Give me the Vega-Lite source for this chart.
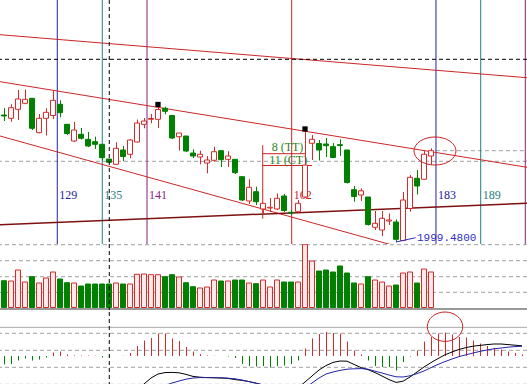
{
  "$schema": "https://vega.github.io/schema/vega-lite/v6.json",
  "background": "white",
  "padding": 0,
  "spacing": 0,
  "config": {"view": {"stroke": null}, "scale": {"continuousPadding": 0}},
  "datasets": {
    "k": [
      {"i":0,"o":2126.5,"c":2125.5,"h":2133.5,"l":2120.5,"v":268},
      {"i":1,"o":2123.2,"c":2133.8,"h":2137.2,"l":2119.8,"v":265},
      {"i":2,"o":2132.2,"c":2142.5,"h":2151.5,"l":2121.5,"v":375},
      {"i":3,"o":2138.2,"c":2142.2,"h":2152.0,"l":2137.2,"v":255},
      {"i":4,"o":2143.2,"c":2113.2,"h":2143.5,"l":2111.5,"v":308},
      {"i":5,"o":2108.8,"c":2123.2,"h":2127.5,"l":2108.2,"v":245},
      {"i":6,"o":2123.2,"c":2129.2,"h":2133.2,"l":2106.0,"v":295},
      {"i":7,"o":2126.0,"c":2141.2,"h":2151.5,"l":2122.5,"v":355},
      {"i":8,"o":2137.2,"c":2128.8,"h":2141.2,"l":2124.2,"v":285},
      {"i":9,"o":2117.2,"c":2108.0,"h":2117.5,"l":2106.5,"v":248},
      {"i":10,"o":2100.5,"c":2111.5,"h":2119.5,"l":2099.5,"v":245},
      {"i":11,"o":2107.2,"c":2103.2,"h":2113.5,"l":2102.0,"v":215},
      {"i":12,"o":2102.2,"c":2095.5,"h":2109.5,"l":2094.5,"v":235},
      {"i":13,"o":2099.8,"c":2097.2,"h":2104.8,"l":2092.5,"v":235},
      {"i":14,"o":2097.2,"c":2083.8,"h":2097.5,"l":2081.0,"v":235},
      {"i":15,"o":2082.5,"c":2079.2,"h":2082.5,"l":2078.5,"v":235},
      {"i":16,"o":2077.2,"c":2093.2,"h":2099.2,"l":2076.5,"v":245},
      {"i":17,"o":2091.5,"c":2085.0,"h":2095.5,"l":2080.2,"v":235},
      {"i":18,"o":2087.2,"c":2101.5,"h":2102.5,"l":2083.2,"v":235},
      {"i":19,"o":2099.5,"c":2118.5,"h":2122.0,"l":2099.0,"v":332},
      {"i":20,"o":2117.2,"c":2120.5,"h":2123.5,"l":2113.2,"v":335},
      {"i":21,"o":2122.2,"c":2123.0,"h":2127.5,"l":2118.2,"v":328},
      {"i":22,"o":2122.2,"c":2132.0,"h":2135.5,"l":2113.5,"v":328},
      {"i":23,"o":2133.2,"c":2130.2,"h":2134.8,"l":2127.2,"v":308},
      {"i":24,"o":2126.0,"c":2103.5,"h":2126.0,"l":2102.5,"v":328},
      {"i":25,"o":2104.8,"c":2108.5,"h":2108.5,"l":2091.0,"v":305},
      {"i":26,"o":2105.5,"c":2090.5,"h":2105.5,"l":2089.5,"v":248},
      {"i":27,"o":2088.5,"c":2085.5,"h":2092.2,"l":2083.5,"v":208},
      {"i":28,"o":2084.5,"c":2087.2,"h":2090.8,"l":2077.2,"v":195},
      {"i":29,"o":2078.5,"c":2081.5,"h":2085.5,"l":2068.2,"v":205},
      {"i":30,"o":2081.2,"c":2089.8,"h":2094.8,"l":2079.8,"v":275},
      {"i":31,"o":2090.8,"c":2081.8,"h":2090.8,"l":2074.5,"v":265},
      {"i":32,"o":2082.2,"c":2085.5,"h":2090.3,"l":2074.5,"v":265},
      {"i":33,"o":2082.2,"c":2068.8,"h":2082.2,"l":2067.5,"v":275},
      {"i":34,"o":2064.8,"c":2041.5,"h":2064.8,"l":2040.5,"v":275},
      {"i":35,"o":2040.5,"c":2054.2,"h":2062.2,"l":2037.5,"v":245},
      {"i":36,"o":2049.8,"c":2039.8,"h":2054.8,"l":2036.5,"v":238},
      {"i":37,"o":2032.5,"c":2038.2,"h":2038.5,"l":2028.2,"v":275},
      {"i":38,"o":2033.5,"c":2034.2,"h":2043.5,"l":2029.5,"v":205},
      {"i":39,"o":2032.5,"c":2043.2,"h":2048.0,"l":2031.5,"v":275},
      {"i":40,"o":2045.5,"c":2031.0,"h":2047.5,"l":2029.5,"v":255},
      {"i":41,"o":2029.2,"c":2028.5,"h":2031.5,"l":2026.5,"v":255},
      {"i":42,"o":2029.8,"c":2038.2,"h":2041.5,"l":2028.2,"v":255},
      {"i":43,"o":2044.5,"c":2076.5,"h":2111.5,"l":2043.5,"v":632},
      {"i":44,"o":2098.2,"c":2102.2,"h":2106.5,"l":2081.5,"v":465},
      {"i":45,"o":2098.0,"c":2091.5,"h":2101.5,"l":2081.0,"v":365},
      {"i":46,"o":2097.5,"c":2095.8,"h":2103.5,"l":2084.5,"v":375},
      {"i":47,"o":2094.8,"c":2084.0,"h":2098.5,"l":2083.5,"v":355},
      {"i":48,"o":2096.8,"c":2096.0,"h":2102.2,"l":2085.5,"v":415},
      {"i":49,"o":2091.5,"c":2059.0,"h":2091.5,"l":2058.0,"v":345},
      {"i":50,"o":2051.8,"c":2045.0,"h":2055.5,"l":2039.8,"v":245},
      {"i":51,"o":2046.5,"c":2050.7,"h":2053.2,"l":2040.5,"v":235},
      {"i":52,"o":2044.5,"c":2017.0,"h":2044.5,"l":2016.0,"v":308},
      {"i":53,"o":2014.2,"c":2018.2,"h":2030.5,"l":2011.5,"v":275},
      {"i":54,"o":2011.5,"c":2023.2,"h":2030.5,"l":2005.5,"v":255},
      {"i":55,"o":2020.5,"c":2021.5,"h":2028.0,"l":2016.5,"v":215},
      {"i":56,"o":2019.5,"c":2002.2,"h":2022.0,"l":1999.48,"v":225},
      {"i":57,"o":2001.0,"c":2041.5,"h":2049.5,"l":2000.5,"v":345},
      {"i":58,"o":2033.0,"c":2064.2,"h":2066.5,"l":2029.8,"v":355},
      {"i":59,"o":2063.2,"c":2055.5,"h":2071.5,"l":2047.0,"v":245},
      {"i":60,"o":2062.2,"c":2087.3,"h":2090.5,"l":2062.2,"v":385},
      {"i":61,"o":2085.5,"c":2090.8,"h":2093.2,"l":2076.5,"v":355}
    ],
    "macd": [
      {"i":0,"dif":-24,"dea":-23,"hist":-4.3},
      {"i":1,"dif":-25,"dea":-23,"hist":-4},
      {"i":2,"dif":-26,"dea":-24,"hist":-2.3},
      {"i":3,"dif":-26,"dea":-24,"hist":-1.3},
      {"i":4,"dif":-27,"dea":-24,"hist":-2.3},
      {"i":5,"dif":-27,"dea":-24,"hist":-1.7},
      {"i":6,"dif":-27,"dea":-25,"hist":-0.7},
      {"i":7,"dif":-26,"dea":-25,"hist":1.7},
      {"i":8,"dif":-25,"dea":-25,"hist":2.3},
      {"i":9,"dif":-24,"dea":-25,"hist":0.7},
      {"i":10,"dif":-24,"dea":-25,"hist":0.3},
      {"i":11,"dif":-23,"dea":-24,"hist":0.3},
      {"i":12,"dif":-23,"dea":-24,"hist":0.2},
      {"i":13,"dif":-22,"dea":-24,"hist":0.1},
      {"i":14,"dif":-22,"dea":-23,"hist":-0.7},
      {"i":15,"dif":-21,"dea":-23,"hist":-0.5},
      {"i":16,"dif":-20,"dea":-22,"hist":0},
      {"i":17,"dif":-19,"dea":-22,"hist":0.1},
      {"i":18,"dif":-18,"dea":-21,"hist":1.5},
      {"i":19,"dif":-16.5,"dea":-20,"hist":5},
      {"i":20,"dif":-14,"dea":-18.5,"hist":7.7},
      {"i":21,"dif":-11,"dea":-17.2,"hist":9},
      {"i":22,"dif":-9,"dea":-16,"hist":11.3},
      {"i":23,"dif":-8.3,"dea":-14.8,"hist":11.3},
      {"i":24,"dif":-8.2,"dea":-13.5,"hist":8.7},
      {"i":25,"dif":-8.4,"dea":-12.5,"hist":7.5},
      {"i":26,"dif":-9.2,"dea":-11.6,"hist":4.5},
      {"i":27,"dif":-10.2,"dea":-11,"hist":2.3},
      {"i":28,"dif":-10.6,"dea":-10.8,"hist":1},
      {"i":29,"dif":-10.8,"dea":-10.8,"hist":0.2},
      {"i":30,"dif":-10.9,"dea":-10.8,"hist":0.1},
      {"i":31,"dif":-11,"dea":-10.9,"hist":0},
      {"i":32,"dif":-11.2,"dea":-11.1,"hist":-0.3},
      {"i":33,"dif":-11.8,"dea":-11.4,"hist":-1},
      {"i":34,"dif":-12.2,"dea":-12,"hist":-4},
      {"i":35,"dif":-12.8,"dea":-12.8,"hist":-5},
      {"i":36,"dif":-13.6,"dea":-13.6,"hist":-5.3},
      {"i":37,"dif":-14.6,"dea":-14.4,"hist":-5},
      {"i":38,"dif":-15.6,"dea":-15.2,"hist":-5.7},
      {"i":39,"dif":-17,"dea":-16,"hist":-5},
      {"i":40,"dif":-18,"dea":-17,"hist":-4.7},
      {"i":41,"dif":-18,"dea":-17.5,"hist":-4},
      {"i":42,"dif":-16,"dea":-17,"hist":-2.2},
      {"i":43,"dif":-13,"dea":-16,"hist":3.7},
      {"i":44,"dif":-10,"dea":-13.5,"hist":8.7},
      {"i":45,"dif":-7,"dea":-11,"hist":11},
      {"i":46,"dif":-4.8,"dea":-9,"hist":12},
      {"i":47,"dif":-3.2,"dea":-8,"hist":11.5},
      {"i":48,"dif":-2.5,"dea":-7.2,"hist":11.2},
      {"i":49,"dif":-2.6,"dea":-6.6,"hist":7.3},
      {"i":50,"dif":-4.2,"dea":-6.4,"hist":2.8},
      {"i":51,"dif":-5.8,"dea":-6.3,"hist":0.7},
      {"i":52,"dif":-6.8,"dea":-6.6,"hist":-2.2},
      {"i":53,"dif":-8.3,"dea":-7.6,"hist":-5},
      {"i":54,"dif":-10,"dea":-8.5,"hist":-5.5},
      {"i":55,"dif":-11.8,"dea":-9.5,"hist":-5.5},
      {"i":56,"dif":-13.2,"dea":-10.4,"hist":-7.2},
      {"i":57,"dif":-12.6,"dea":-10.5,"hist":-3},
      {"i":58,"dif":-10.5,"dea":-9.9,"hist":-0.3},
      {"i":59,"dif":-8,"dea":-8.8,"hist":2.8},
      {"i":60,"dif":-5.5,"dea":-7.5,"hist":7.3},
      {"i":61,"dif":-3.3,"dea":-5.8,"hist":9.5},
      {"i":62,"dif":-1.3,"dea":-4.2,"hist":11.2},
      {"i":63,"dif":0.6,"dea":-2.8,"hist":11.7},
      {"i":64,"dif":2,"dea":-1.5,"hist":10.7},
      {"i":65,"dif":3.3,"dea":-0.3,"hist":9.5},
      {"i":66,"dif":4.2,"dea":0.6,"hist":9.2},
      {"i":67,"dif":4.9,"dea":1.5,"hist":7.8},
      {"i":68,"dif":5.3,"dea":2.3,"hist":6.2},
      {"i":69,"dif":5.7,"dea":3,"hist":5},
      {"i":70,"dif":6,"dea":3.6,"hist":4},
      {"i":71,"dif":6,"dea":4,"hist":3.3},
      {"i":72,"dif":5.7,"dea":4.4,"hist":2.3},
      {"i":73,"dif":5.4,"dea":4.7,"hist":1.5},
      {"i":74,"dif":5.1,"dea":4.9,"hist":0.7}
    ],
    "cycles": [
      {"i":7.61,"n":"129","s":"A"},
      {"i":14.04,"n":"135","s":"B"},
      {"i":20.43,"n":"141","s":"C"},
      {"i":41.1,"n":"162","s":"D"},
      {"i":61.71,"n":"183","s":"A"},
      {"i":68.1,"n":"189","s":"B"},
      {"i":74.47,"n":"195","s":"C"}
    ],
    "channel": [
      {"t":"top","i":-0.5714,"p":2206.8},
      {"t":"top","i":74.7143,"p":2163.8},
      {"t":"upper","i":-0.5714,"p":2159.8},
      {"t":"upper","i":74.7143,"p":2074.2},
      {"t":"lower","i":-0.5714,"p":2105.5},
      {"t":"lower","i":74.7143,"p":1959.0}
    ],
    "base": [
      {"i":-0.5714,"p":2016.8},
      {"i":74.7143,"p":2038.2}
    ],
    "cross": [{"i":15.04,"p":2182.2}]
  },
  "vconcat": [
    {
      "width": 527,
      "height": 244,
      "layer": [
        {
          "data": {"values": [{"p": 2080.2}]},
          "mark": {"type": "rule", "color": "#a0a0a0", "strokeDash": [4, 3], "clip": true},
          "encoding": {
            "y": {"field": "p", "type": "quantitative", "scale": {"domain": [1997.5, 2241.5], "nice": false, "zero": false, "padding": 0}, "axis": null}
          }
        },
        {
          "data": {"values": [{"i": 61.7, "i2": 74.7143, "p": 2090.8}]},
          "mark": {"type": "rule", "color": "#a0a0a0", "strokeDash": [4, 3], "clip": true},
          "encoding": {
            "x": {"field": "i", "type": "quantitative", "scale": {"domain": [-0.5714, 74.7143], "nice": false, "zero": false, "padding": 0}, "axis": null},
            "x2": {"field": "i2"},
            "y": {"field": "p", "type": "quantitative", "scale": {"domain": [1997.5, 2241.5], "nice": false, "zero": false, "padding": 0}, "axis": null}
          }
        },
        {
          "data": {"name": "cycles"},
          "mark": {"type": "rule", "strokeWidth": 1, "clip": true},
          "encoding": {
            "x": {"field": "i", "type": "quantitative", "scale": {"domain": [-0.5714, 74.7143], "nice": false, "zero": false, "padding": 0}, "axis": null},
            "color": {"field": "s", "type": "nominal", "scale": {"domain": ["A", "B", "C", "D"], "range": ["#24249c", "#1e8282", "#861e86", "#cc2222"]}, "legend": null}
          }
        },
        {
          "data": {"name": "cycles"},
          "transform": [{"filter": "datum.i < 70"}],
          "mark": {"type": "text", "align": "left", "baseline": "middle", "dx": 2, "font": "Liberation Serif", "fontSize": 12, "clip": true},
          "encoding": {
            "x": {"field": "i", "type": "quantitative", "scale": {"domain": [-0.5714, 74.7143], "nice": false, "zero": false, "padding": 0}, "axis": null},
            "y": {"datum": 2046.5, "type": "quantitative", "scale": {"domain": [1997.5, 2241.5], "nice": false, "zero": false, "padding": 0}, "axis": null},
            "text": {"field": "n", "type": "nominal"},
            "color": {"field": "s", "type": "nominal", "scale": {"domain": ["A", "B", "C", "D"], "range": ["#24249c", "#1e8282", "#861e86", "#cc2222"]}, "legend": null}
          }
        },
        {
          "data": {"name": "channel"},
          "mark": {"type": "line", "color": "#cc2626", "strokeWidth": 1, "clip": true},
          "encoding": {
            "x": {"field": "i", "type": "quantitative", "scale": {"domain": [-0.5714, 74.7143], "nice": false, "zero": false, "padding": 0}, "axis": null},
            "y": {"field": "p", "type": "quantitative", "scale": {"domain": [1997.5, 2241.5], "nice": false, "zero": false, "padding": 0}, "axis": null},
            "detail": {"field": "t", "type": "nominal"}
          }
        },
        {
          "data": {"name": "base"},
          "mark": {"type": "line", "color": "#7f1010", "strokeWidth": 1.5, "clip": true},
          "encoding": {
            "x": {"field": "i", "type": "quantitative", "scale": {"domain": [-0.5714, 74.7143], "nice": false, "zero": false, "padding": 0}, "axis": null},
            "y": {"field": "p", "type": "quantitative", "scale": {"domain": [1997.5, 2241.5], "nice": false, "zero": false, "padding": 0}, "axis": null}
          }
        },
        {
          "data": {"values": [
            {"i": 36.96, "i2": 36.96, "p": 2022.8, "p2": 2096.2},
            {"i": 36.96, "i2": 43, "p": 2087.8, "p2": 2087.8},
            {"i": 36.96, "i2": 44, "p": 2076.0, "p2": 2076.0}
          ]},
          "mark": {"type": "rule", "color": "#cc2222", "strokeWidth": 1, "clip": true},
          "encoding": {
            "x": {"field": "i", "type": "quantitative", "scale": {"domain": [-0.5714, 74.7143], "nice": false, "zero": false, "padding": 0}, "axis": null},
            "x2": {"field": "i2"},
            "y": {"field": "p", "type": "quantitative", "scale": {"domain": [1997.5, 2241.5], "nice": false, "zero": false, "padding": 0}, "axis": null},
            "y2": {"field": "p2"}
          }
        },
        {
          "data": {"values": [
            {"i": 40.5, "p": 2090.5, "t": "8 (TT)"},
            {"i": 40.6, "p": 2077.5, "t": "11 (CT)"}
          ]},
          "mark": {"type": "text", "align": "center", "baseline": "alphabetic", "font": "Liberation Serif", "fontSize": 12, "color": "#1f851f", "clip": true},
          "encoding": {
            "x": {"field": "i", "type": "quantitative", "scale": {"domain": [-0.5714, 74.7143], "nice": false, "zero": false, "padding": 0}, "axis": null},
            "y": {"field": "p", "type": "quantitative", "scale": {"domain": [1997.5, 2241.5], "nice": false, "zero": false, "padding": 0}, "axis": null},
            "text": {"field": "t", "type": "nominal"}
          }
        },
        {
          "data": {"name": "k"},
          "mark": {"type": "rule", "strokeWidth": 1, "xOffset": 0.5, "clip": true},
          "encoding": {
            "x": {"field": "i", "type": "quantitative", "scale": {"domain": [-0.5714, 74.7143], "nice": false, "zero": false, "padding": 0}, "axis": null},
            "y": {"field": "l", "type": "quantitative", "scale": {"domain": [1997.5, 2241.5], "nice": false, "zero": false, "padding": 0}, "axis": null},
            "y2": {"field": "h"},
            "color": {"condition": {"test": "datum.c >= datum.o", "value": "#d42a2a"}, "value": "#008000"}
          }
        },
        {
          "data": {"name": "k"},
          "mark": {"type": "bar", "width": 5, "strokeWidth": 1, "clip": true},
          "encoding": {
            "x": {"field": "i", "type": "quantitative", "scale": {"domain": [-0.5714, 74.7143], "nice": false, "zero": false, "padding": 0}, "axis": null},
            "y": {"field": "o", "type": "quantitative", "scale": {"domain": [1997.5, 2241.5], "nice": false, "zero": false, "padding": 0}, "axis": null},
            "y2": {"field": "c"},
            "fill": {"condition": {"test": "datum.c >= datum.o", "value": "#ffffff"}, "value": "#008000"},
            "stroke": {"condition": {"test": "datum.c >= datum.o", "value": "#d42a2a"}, "value": "#008000"}
          }
        },
        {
          "data": {"values": [{"i": 22, "p": 2137}, {"i": 43, "p": 2112.5}]},
          "mark": {"type": "point", "shape": "square", "filled": true, "size": 28, "color": "#000000", "opacity": 1, "clip": true},
          "encoding": {
            "x": {"field": "i", "type": "quantitative", "scale": {"domain": [-0.5714, 74.7143], "nice": false, "zero": false, "padding": 0}, "axis": null},
            "y": {"field": "p", "type": "quantitative", "scale": {"domain": [1997.5, 2241.5], "nice": false, "zero": false, "padding": 0}, "axis": null}
          }
        },
        {
          "data": {"values": [{"i": 56, "p": 1999.48, "i2": 58.8, "p2": 2003.8}]},
          "mark": {"type": "rule", "color": "#2f2fc8", "strokeWidth": 1, "clip": true},
          "encoding": {
            "x": {"field": "i", "type": "quantitative", "scale": {"domain": [-0.5714, 74.7143], "nice": false, "zero": false, "padding": 0}, "axis": null},
            "x2": {"field": "i2"},
            "y": {"field": "p", "type": "quantitative", "scale": {"domain": [1997.5, 2241.5], "nice": false, "zero": false, "padding": 0}, "axis": null},
            "y2": {"field": "p2"}
          }
        },
        {
          "data": {"values": [{"i": 56, "p": 1999.48}]},
          "mark": {"type": "text", "align": "left", "baseline": "middle", "dx": 21, "dy": -4, "font": "Liberation Mono", "fontSize": 11, "color": "#2f2fc8", "clip": true},
          "encoding": {
            "x": {"field": "i", "type": "quantitative", "scale": {"domain": [-0.5714, 74.7143], "nice": false, "zero": false, "padding": 0}, "axis": null},
            "y": {"field": "p", "type": "quantitative", "scale": {"domain": [1997.5, 2241.5], "nice": false, "zero": false, "padding": 0}, "axis": null},
            "text": {"field": "p", "type": "quantitative", "format": ".4f"}
          }
        },
        {
          "data": {"values": [{"i": 61.57, "p": 2090.5}]},
          "mark": {"type": "point", "shape": "M-1,0A1,0.667,0,1,1,1,0A1,0.667,0,1,1,-1,0Z", "size": 1764, "filled": false, "color": "#cc2222", "strokeWidth": 1, "opacity": 1},
          "encoding": {
            "x": {"field": "i", "type": "quantitative", "scale": {"domain": [-0.5714, 74.7143], "nice": false, "zero": false, "padding": 0}, "axis": null},
            "y": {"field": "p", "type": "quantitative", "scale": {"domain": [1997.5, 2241.5], "nice": false, "zero": false, "padding": 0}, "axis": null}
          }
        },
        {
          "data": {"name": "cross"},
          "mark": {"type": "rule", "color": "#000000", "strokeDash": [4, 3], "clip": true},
          "encoding": {
            "y": {"field": "p", "type": "quantitative", "scale": {"domain": [1997.5, 2241.5], "nice": false, "zero": false, "padding": 0}, "axis": null}
          }
        },
        {
          "data": {"name": "cross"},
          "mark": {"type": "rule", "color": "#000000", "strokeDash": [4, 3], "clip": true},
          "encoding": {
            "x": {"field": "i", "type": "quantitative", "scale": {"domain": [-0.5714, 74.7143], "nice": false, "zero": false, "padding": 0}, "axis": null}
          }
        }
      ]
    },
    {
      "width": 527,
      "height": 66,
      "layer": [
        {
          "data": {"values": [{"v": 628}, {"v": 468}, {"v": 308}, {"v": 152}]},
          "mark": {"type": "rule", "color": "#a0a0a0", "strokeDash": [4, 3], "clip": true},
          "encoding": {
            "y": {"field": "v", "type": "quantitative", "scale": {"domain": [-25, 635], "nice": false, "zero": false, "padding": 0}, "axis": null}
          }
        },
        {
          "data": {"values": [{"v": -15}]},
          "mark": {"type": "rule", "color": "#999999", "strokeWidth": 2, "clip": true},
          "encoding": {
            "y": {"field": "v", "type": "quantitative", "scale": {"domain": [-25, 635], "nice": false, "zero": false, "padding": 0}, "axis": null}
          }
        },
        {
          "data": {"name": "k"},
          "mark": {"type": "bar", "width": 5, "strokeWidth": 1, "clip": true},
          "encoding": {
            "x": {"field": "i", "type": "quantitative", "scale": {"domain": [-0.5714, 74.7143], "nice": false, "zero": false, "padding": 0}, "axis": null},
            "y": {"field": "v", "type": "quantitative", "scale": {"domain": [-25, 635], "nice": false, "zero": false, "padding": 0}, "axis": null},
            "fill": {"condition": {"test": "datum.c >= datum.o", "value": "#ffeaea"}, "value": "#008000"},
            "stroke": {"condition": {"test": "datum.c >= datum.o", "value": "#d42a2a"}, "value": "#008000"}
          }
        },
        {
          "data": {"name": "cross"},
          "mark": {"type": "rule", "color": "#000000", "strokeDash": [4, 3], "clip": true},
          "encoding": {
            "x": {"field": "i", "type": "quantitative", "scale": {"domain": [-0.5714, 74.7143], "nice": false, "zero": false, "padding": 0}, "axis": null}
          }
        }
      ]
    },
    {
      "width": 527,
      "height": 74,
      "layer": [
        {
          "data": {"values": [{"m": 14.35}]},
          "mark": {"type": "rule", "color": "#a8a8a8", "clip": true},
          "encoding": {
            "y": {"field": "m", "type": "quantitative", "scale": {"domain": [-15, 22], "nice": false, "zero": false, "padding": 0}, "axis": null}
          }
        },
        {
          "data": {"values": [{"m": 11.35}, {"m": 2.85}, {"m": -5.65}, {"m": -14.15}]},
          "mark": {"type": "rule", "color": "#a0a0a0", "strokeDash": [4, 3], "clip": true},
          "encoding": {
            "y": {"field": "m", "type": "quantitative", "scale": {"domain": [-15, 22], "nice": false, "zero": false, "padding": 0}, "axis": null}
          }
        },
        {
          "data": {"name": "macd"},
          "mark": {"type": "bar", "width": 1, "xOffset": 0.5, "clip": true},
          "encoding": {
            "x": {"field": "i", "type": "quantitative", "scale": {"domain": [-0.5714, 74.7143], "nice": false, "zero": false, "padding": 0}, "axis": null},
            "y": {"field": "hist", "type": "quantitative", "scale": {"domain": [-15, 22], "nice": false, "zero": false, "padding": 0}, "axis": null},
            "color": {"condition": {"test": "datum.hist >= 0", "value": "#d42a2a"}, "value": "#008000"}
          }
        },
        {
          "data": {"name": "macd"},
          "mark": {"type": "line", "color": "#000000", "strokeWidth": 1, "clip": true},
          "encoding": {
            "x": {"field": "i", "type": "quantitative", "scale": {"domain": [-0.5714, 74.7143], "nice": false, "zero": false, "padding": 0}, "axis": null},
            "y": {"field": "dif", "type": "quantitative", "scale": {"domain": [-15, 22], "nice": false, "zero": false, "padding": 0}, "axis": null}
          }
        },
        {
          "data": {"name": "macd"},
          "mark": {"type": "line", "color": "#2424a8", "strokeWidth": 1, "clip": true},
          "encoding": {
            "x": {"field": "i", "type": "quantitative", "scale": {"domain": [-0.5714, 74.7143], "nice": false, "zero": false, "padding": 0}, "axis": null},
            "y": {"field": "dea", "type": "quantitative", "scale": {"domain": [-15, 22], "nice": false, "zero": false, "padding": 0}, "axis": null}
          }
        },
        {
          "data": {"values": [{"i": 63, "m": 14.65}]},
          "mark": {"type": "point", "shape": "M-1,0A1,0.83,0,1,1,1,0A1,0.83,0,1,1,-1,0Z", "size": 1253, "filled": false, "color": "#cc2222", "strokeWidth": 1, "opacity": 1},
          "encoding": {
            "x": {"field": "i", "type": "quantitative", "scale": {"domain": [-0.5714, 74.7143], "nice": false, "zero": false, "padding": 0}, "axis": null},
            "y": {"field": "m", "type": "quantitative", "scale": {"domain": [-15, 22], "nice": false, "zero": false, "padding": 0}, "axis": null}
          }
        },
        {
          "data": {"name": "cross"},
          "mark": {"type": "rule", "color": "#000000", "strokeDash": [4, 3], "clip": true},
          "encoding": {
            "x": {"field": "i", "type": "quantitative", "scale": {"domain": [-0.5714, 74.7143], "nice": false, "zero": false, "padding": 0}, "axis": null}
          }
        }
      ]
    }
  ]
}
